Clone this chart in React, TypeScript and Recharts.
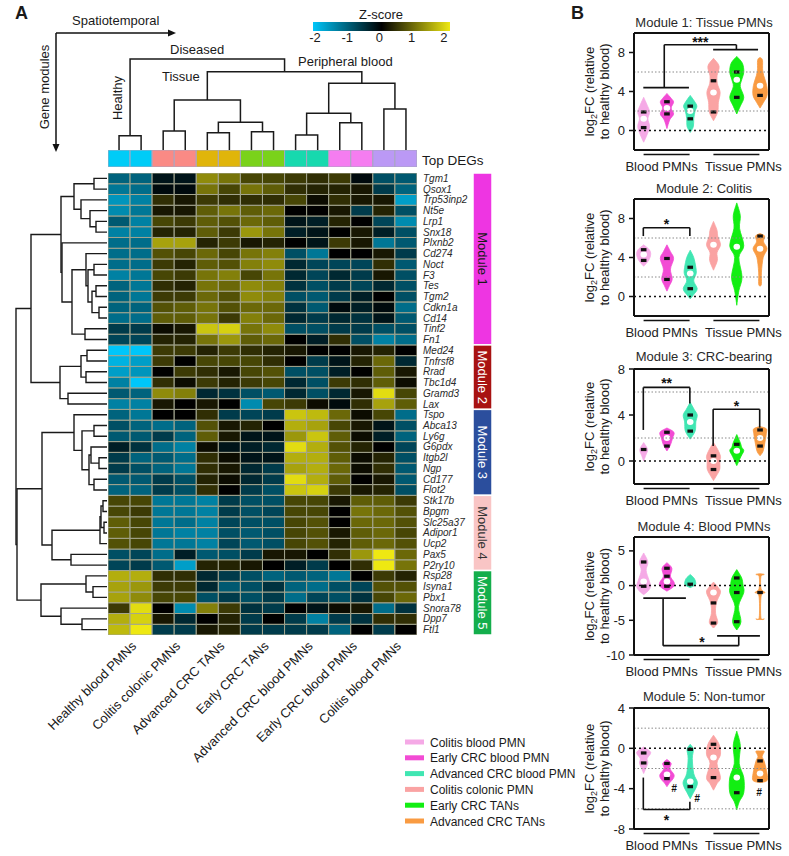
import React from "react";
import {
  Bar,
  BarChart,
  Cell,
  ComposedChart,
  Line,
  ReferenceArea,
  ReferenceDot,
  ReferenceLine,
  XAxis,
  YAxis,
} from "recharts";

const FONT = "'Liberation Sans', Arial, Helvetica, sans-serif";

// ---- heatmap columns (two replicates per group) ----
const GROUPS = [
  "Healthy blood PMNs",
  "Colitis colonic PMNs",
  "Advanced CRC TANs",
  "Early CRC TANs",
  "Advanced CRC blood PMNs",
  "Early CRC blood PMNs",
  "Colitis blood PMNs",
];
const GROUP_COLORS = ["#00CCF7", "#FA8A85", "#E0B50A", "#7AD21A", "#17D9AE", "#F57DF0", "#BB99F5"];
const COLUMNS = GROUPS.flatMap((g) => [g + " 1", g + " 2"]);

// ---- genes + z-scores per module ----
const MODULE1_GENES = ["Tgm1", "Qsox1", "Trp53inp2", "Nt5e", "Lrp1", "Snx18", "Plxnb2", "Cd274", "Noct", "F3", "Tes", "Tgm2", "Cdkn1a", "Cd14", "Tinf2", "Fn1"];
const MODULE1_Z = [
  [-1.0, -1.0, -0.2, -0.2, 1.2, 1.0, 0.6, 0.6, 0.5, 0.4, 0.5, -0.1, -0.8, -0.9],
  [-1.2, -1.1, -0.1, -0.1, 1.0, 0.6, 1.0, 0.8, 0.4, 0.3, 0.3, 0.2, -0.6, -1.0],
  [-1.5, -1.3, 0.4, 0.2, 0.5, 0.4, 0.4, 0.4, 0.6, 0.1, 0.4, 0.2, 0.2, -1.6],
  [-1.4, -1.2, 0.2, 0.2, 0.8, 1.0, 0.8, 0.9, 0.0, 0.0, 0.2, -0.6, 0.3, -0.8],
  [-0.9, -1.3, 0.6, 0.5, 0.8, 0.7, 0.9, 0.8, -0.2, -0.3, 0.3, 0.0, -0.7, -1.4],
  [-1.3, -1.3, 0.3, 0.3, 0.8, 0.5, 1.3, 1.0, -0.3, -0.2, 0.0, 0.2, -0.3, -0.8],
  [-1.1, -1.1, 1.4, 1.4, 0.3, 0.5, 0.2, 0.3, 0.0, -0.2, 0.5, 0.2, -1.2, -0.9],
  [-1.1, -1.1, 0.7, 0.6, 0.9, 0.6, 1.0, 1.1, -0.8, -1.2, 0.0, 0.0, 0.2, -0.6],
  [-1.1, -1.1, 0.5, 0.3, 0.8, 0.7, 1.1, 1.2, -0.4, -0.7, -0.7, -0.7, 0.4, -0.9],
  [-1.3, -1.2, 0.6, 0.5, 1.0, 1.1, 0.6, 1.0, -0.4, -0.7, -0.4, -0.6, 0.2, -0.8],
  [-1.0, -1.2, 0.4, 0.3, 1.0, 0.9, 1.2, 1.1, -0.5, -0.8, -0.6, -0.7, -0.4, -0.8],
  [-1.0, -1.2, 0.5, 0.5, 0.9, 0.7, 1.2, 1.1, -0.8, -0.9, -0.6, -0.3, 0.0, -0.8],
  [-1.0, -1.0, 0.7, 0.8, 1.0, 0.7, 0.9, 0.9, -0.5, -0.9, -0.1, -0.3, -0.1, -1.1],
  [-1.1, -1.1, 0.8, 0.8, 1.0, 0.5, 1.1, 0.9, -0.4, -0.6, -0.4, -0.5, -0.2, -0.9],
  [-0.6, -0.6, 0.1, 0.2, 1.7, 1.8, 1.0, 1.2, -0.8, -0.8, -0.6, -0.6, -0.8, -0.8],
  [-0.7, -0.7, 0.3, 0.3, 1.0, 1.3, 0.8, 0.9, 0.0, -0.3, 0.4, -0.8, -1.3, -1.1],
];
const MODULE2_GENES = ["Med24", "Tnfrsf8", "Rrad", "Tbc1d4", "Gramd3", "Lax"];
const MODULE2_Z = [
  [-2.0, -2.0, 0.5, 0.5, 0.3, 0.5, 0.4, 0.3, 0.2, 0.0, 0.0, 0.2, 0.3, 0.0],
  [-1.8, -1.6, 0.5, 0.0, 0.6, 0.6, 0.6, 0.4, 0.0, -0.6, -0.2, 0.3, 0.9, -0.4],
  [-1.6, -1.5, 0.0, 0.5, 0.4, 0.2, 0.6, 0.7, -0.8, -0.8, -0.3, 0.0, 0.8, 0.2],
  [-1.3, -2.1, 0.4, 0.1, 0.5, 0.3, 0.5, 0.6, -0.4, -0.8, 0.5, 0.4, 0.8, 0.1],
  [-0.9, -1.0, 1.2, 1.1, -0.4, -0.5, -0.8, -0.9, -0.4, -0.8, -0.4, 0.2, 1.9, 0.6],
  [-1.3, -1.3, 0.2, 0.0, 0.2, 0.0, -1.4, 0.6, 0.5, 0.1, -0.1, 0.4, 1.4, 0.8],
];
const MODULE3_GENES = ["Tspo", "Abca13", "Ly6g", "G6pdx", "Itgb2l", "Ngp", "Cd177", "Flot2"];
const MODULE3_Z = [
  [-1.0, -1.2, 0.0, 0.0, 0.4, -0.6, -0.7, -0.6, 1.7, 1.6, 0.9, 0.1, 0.6, -1.1],
  [-0.8, -1.0, -1.1, -1.0, 0.7, 0.2, 0.3, 0.0, 1.5, 1.4, 0.6, 0.2, -0.2, -0.8],
  [-0.9, -0.9, -0.6, -1.0, 0.8, 0.2, -0.2, -0.2, 1.3, 1.7, 0.8, 0.1, -0.3, -1.0],
  [-0.3, -0.5, -1.1, -1.3, 0.1, -0.2, -0.3, -0.4, 1.9, 1.5, 0.7, 0.3, 0.0, -0.7],
  [-0.6, -1.0, -0.9, -1.1, 0.4, 0.1, -0.2, -0.2, 1.5, 1.5, 0.8, 0.1, 0.3, -0.8],
  [-0.6, -0.8, -1.0, -1.2, 0.4, 0.2, -0.4, -0.6, 1.4, 1.5, 0.9, 0.1, 0.4, -0.9],
  [-0.9, -0.9, -0.6, -0.8, 0.3, 0.1, -0.4, -0.6, 1.9, 1.5, 0.8, 0.0, 0.2, -0.9],
  [-1.0, -1.0, -0.6, -0.8, 0.4, 0.0, -0.6, -0.8, 1.7, 1.8, 0.5, 0.2, 0.3, -0.8],
];
const MODULE4_GENES = ["Stk17b", "Bpgm", "Slc25a37", "Adipor1", "Ucp2", "Pax5", "P2ry10"];
const MODULE4_Z = [
  [0.6, 0.6, -1.2, -1.2, -1.3, -0.6, -0.8, -0.8, 0.6, 0.6, 0.2, 0.8, 0.8, 0.5],
  [0.6, 0.5, -1.2, -1.2, -1.3, -0.6, -0.8, -0.7, 0.6, 0.6, 0.0, 1.0, 0.9, 0.7],
  [0.8, 0.6, -1.2, -1.1, -1.3, -0.7, -0.8, -0.8, 0.6, 0.7, 0.0, 0.9, 0.9, 0.7],
  [0.8, 0.6, -1.2, -1.3, -1.3, -0.8, -0.9, -0.8, 0.6, 0.7, 0.2, 0.8, 0.9, 0.6],
  [0.7, 0.6, -1.2, -1.2, -1.3, -0.7, -0.9, -0.8, 0.6, 0.7, 0.3, 0.8, 0.9, 0.7],
  [-0.8, -0.7, -1.1, -0.3, -0.9, -0.8, -0.6, 0.2, 0.2, 0.0, 0.4, 1.3, 2.0, 0.9],
  [-0.7, -0.6, -0.9, -1.6, 0.3, 0.3, 0.2, 0.0, -0.3, -0.6, 0.0, 0.4, 2.0, 1.0],
];
const MODULE5_GENES = ["Rsp28", "Isyna1", "Pbx1", "Snora78", "Dpp7", "Ftl1"];
const MODULE5_Z = [
  [1.5, 1.5, 0.4, 0.4, -0.4, -0.6, -0.8, -1.0, -0.9, -1.0, -1.2, 0.0, 0.5, 0.3],
  [1.4, 1.3, 0.5, 0.5, -0.4, -0.9, -0.8, -0.5, -1.0, -1.1, -0.8, -0.7, 0.7, 0.7],
  [1.4, 1.2, 0.6, 0.6, -0.8, -0.6, -0.8, -0.6, -1.1, -0.7, -0.8, -0.5, 0.6, 0.9],
  [0.5, 1.9, 0.0, -1.4, 1.1, 0.5, -0.5, -0.6, 0.0, -0.2, 0.1, 0.2, -1.1, -0.5],
  [1.5, 1.8, 0.2, -0.4, 0.0, 0.3, -0.6, 0.0, -0.6, -1.3, -0.6, -0.5, 0.4, 0.4],
  [1.6, 2.2, -0.6, -0.6, 0.2, 0.3, -0.6, -0.6, -0.6, -0.6, -1.0, 0.0, -0.6, 0.0],
];

const MODULE_GENES = [MODULE1_GENES, MODULE2_GENES, MODULE3_GENES, MODULE4_GENES, MODULE5_GENES];
const MODULE_NAMES = ["Module 1", "Module 2", "Module 3", "Module 4", "Module 5"];
const MODULE_COLORS = ["#EE35E2", "#A81212", "#2B4E9D", "#F9C5C5", "#14AE4C"];
const MODULE_TEXT = ["#1a1a1a", "#ffffff", "#ffffff", "#333333", "#ffffff"];

const GENES = MODULE_GENES.flat();
const Z = [...MODULE1_Z, ...MODULE2_Z, ...MODULE3_Z, ...MODULE4_Z, ...MODULE5_Z];

// ---- dendrograms: [childA, childB, height]; leaves first, new nodes appended ----
const TOP_LINKS: [number, number, number][] = [
  [0, 1, 14.3], [2, 3, 19], [4, 5, 17.3], [6, 7, 18.3], [16, 17, 27.7], [15, 18, 50],
  [8, 9, 15], [10, 11, 27.3], [20, 21, 36.7], [12, 13, 41], [22, 23, 66.7], [19, 24, 78.3], [14, 25, 91],
];
const LEFT_LINKS: [number, number, number][] = [
  [0, 1, 13], [4, 5, 11], [3, 44, 17], [2, 45, 26], [43, 46, 33],
  [8, 9, 13], [10, 11, 11], [12, 13, 8], [49, 50, 15], [48, 51, 19], [7, 52, 21], [14, 15, 22],
  [53, 54, 35], [6, 55, 45], [47, 56, 46],
  [16, 17, 20], [18, 19, 21], [58, 59, 26], [20, 21, 39], [60, 61, 47], [57, 62, 76],
  [23, 24, 13], [26, 27, 8], [25, 65, 16], [28, 29, 13], [66, 67, 18], [64, 68, 25], [22, 69, 33],
  [30, 31, 4], [32, 33, 3], [71, 72, 6], [73, 34, 7], [35, 36, 36], [74, 75, 55], [70, 76, 65],
  [38, 39, 14], [37, 78, 21], [41, 42, 25], [40, 80, 46], [79, 81, 66], [77, 82, 90], [63, 83, 91],
];

// ---- violin panels ----
type Violin = { min: number; max: number; knots: [number, number][]; med: number | null; q: number[] };
const VIOLIN_NAMES = ["Colitis blood PMN", "Early CRC blood PMN", "Advanced CRC blood PMN", "Colitis colonic PMN", "Early CRC TANs", "Advanced CRC TANs"];
const VIOLIN_COLORS = ["#F5A9E6", "#F24BD4", "#40E6B2", "#FAA3A3", "#12EE12", "#F99B42"];

const M1_VIOLINS: Violin[] = [
  { min: -1.2, max: 3.4, knots: [[2.6, 0.5], [1.9, 0.85], [1.2, 0.6], [0.4, 0.85], [-0.4, 0.5]], med: 1.2, q: [1.9, 0.3] },
  { min: 0.2, max: 3.8, knots: [[3.3, 0.6], [2.9, 0.95], [2.3, 0.6], [1.7, 0.95], [1.1, 0.4]], med: 2.3, q: [2.95, 1.7] },
  { min: -0.2, max: 3.6, knots: [[3.0, 0.6], [2.5, 0.95], [2.0, 0.7], [1.2, 0.5], [0.4, 0.45]], med: 2.0, q: [2.5, 1.2] },
  { min: 1.0, max: 7.4, knots: [[6.6, 0.8], [5.6, 0.5], [4.8, 0.55], [3.9, 0.95], [2.9, 0.7], [1.9, 0.6]], med: 3.9, q: [5.1, 1.9] },
  { min: 1.7, max: 7.6, knots: [[6.9, 0.8], [6.0, 1.0], [5.2, 0.7], [4.5, 0.5], [3.4, 1.0], [2.5, 0.5]], med: 5.2, q: [6.0, 3.4] },
  { min: 2.3, max: 7.5, knots: [[7.2, 0.35], [6.0, 0.4], [4.6, 0.95], [3.6, 1.0], [2.9, 0.5]], med: 4.6, q: [3.6] },
];
const M2_VIOLINS: Violin[] = [
  { min: 3.1, max: 5.3, knots: [[4.8, 0.8], [4.3, 1.0], [3.7, 0.7]], med: 4.3, q: [4.8, 3.7] },
  { min: 0.55, max: 5.3, knots: [[4.6, 0.5], [3.9, 0.95], [2.8, 0.5], [1.8, 0.75], [1.1, 0.35]], med: null, q: [3.9, 1.75] },
  { min: -0.24, max: 4.75, knots: [[4.0, 0.5], [3.0, 0.8], [2.35, 0.85], [1.6, 0.5], [0.8, 1.0], [0.2, 0.5]], med: 2.35, q: [3.0, 0.8] },
  { min: 2.7, max: 7.7, knots: [[6.8, 0.5], [6.2, 0.6], [5.3, 1.0], [4.5, 0.5], [3.7, 0.55]], med: 5.3, q: [] },
  { min: -0.9, max: 9.6, knots: [[8.3, 0.5], [7.0, 0.4], [5.2, 1.0], [4.0, 0.3], [2.0, 0.75], [0.6, 0.3]], med: 5.1, q: [] },
  { min: 1.05, max: 6.45, knots: [[6.2, 0.65], [5.6, 0.5], [4.9, 1.0], [4.0, 0.45], [2.5, 0.2], [1.3, 0.2]], med: 4.9, q: [6.2] },
];
const M3_VIOLINS: Violin[] = [
  { min: 0.0, max: 1.6, knots: [[1.0, 0.55], [0.5, 0.3]], med: null, q: [1.0] },
  { min: 0.88, max: 2.87, knots: [[2.5, 1.0], [2.0, 0.8], [1.4, 0.5]], med: 2.0, q: [2.5, 1.3] },
  { min: 1.9, max: 5.1, knots: [[4.5, 0.55], [4.0, 1.0], [3.4, 0.8], [2.6, 0.7]], med: 3.4, q: [4.0, 2.6] },
  { min: -1.7, max: 1.6, knots: [[1.0, 0.6], [0.4, 1.0], [0.0, 0.9], [-0.7, 0.9], [-1.2, 0.5]], med: 0.0, q: [0.45, -0.74] },
  { min: -0.4, max: 2.3, knots: [[1.6, 0.5], [1.2, 0.7], [0.9, 1.0], [0.4, 0.6]], med: 0.9, q: [1.45] },
  { min: 0.45, max: 3.0, knots: [[2.8, 0.9], [2.4, 0.9], [2.0, 0.8], [1.3, 0.6], [0.8, 0.4]], med: 2.0, q: [2.7, 1.3] },
];
const M4_VIOLINS: Violin[] = [
  { min: -1.3, max: 4.7, knots: [[3.4, 0.6], [2.2, 0.35], [0.8, 0.75], [-0.1, 1.0], [-0.8, 0.6]], med: 0.6, q: [3.4, -0.1] },
  { min: -0.8, max: 3.3, knots: [[2.5, 0.7], [1.35, 0.5], [0.5, 1.0], [-0.1, 1.0]], med: 0.6, q: [2.5, 1.35, -0.1] },
  { min: -0.3, max: 1.6, knots: [[1.0, 0.6], [0.3, 0.8], [0.0, 0.6]], med: null, q: [0.2] },
  { min: -6.1, max: 0.5, knots: [[-0.3, 0.7], [-1.0, 1.0], [-2.5, 0.4], [-4.0, 0.3], [-5.3, 0.6]], med: -1.0, q: [-2.5, -5.4] },
  { min: -6.4, max: 2.3, knots: [[1.1, 0.7], [0.0, 0.9], [-1.0, 1.0], [-3.0, 0.25], [-5.2, 0.6]], med: null, q: [1.1, -1.0, -5.2] },
  { min: -4.9, max: 1.7, knots: [[1.6, 0.6], [1.3, 0.12], [-0.5, 0.15], [-1.0, 0.7], [-1.5, 0.15], [-4.6, 0.12], [-4.8, 0.6]], med: null, q: [-1.0] },
];
const M5_VIOLINS: Violin[] = [
  { min: -2.5, max: 0.13, knots: [[-0.4, 1.0], [-1.0, 0.5], [-1.45, 0.6], [-2.0, 0.3]], med: null, q: [-0.46, -1.45] },
  { min: -3.8, max: -1.1, knots: [[-1.5, 0.6], [-2.0, 0.4], [-2.6, 1.0], [-3.0, 0.9], [-3.4, 0.4]], med: -2.6, q: [-1.5, -3.0] },
  { min: -5.0, max: 0.4, knots: [[-0.1, 0.45], [-1.0, 0.3], [-2.5, 0.5], [-3.3, 1.0], [-3.8, 0.9], [-4.4, 0.45]], med: -3.3, q: [-0.1, -3.8] },
  { min: -4.15, max: 1.3, knots: [[0.4, 0.8], [-0.6, 1.0], [-1.5, 0.5], [-2.9, 1.0], [-3.5, 0.5]], med: -0.9, q: [0.4, -2.9] },
  { min: -6.1, max: 1.7, knots: [[0.3, 0.5], [-1.5, 0.35], [-2.9, 1.0], [-4.4, 1.0], [-5.3, 0.35]], med: -2.9, q: [-4.4] },
  { min: -3.4, max: -0.27, knots: [[-0.3, 0.6], [-0.8, 0.3], [-1.3, 0.6], [-2.5, 1.0], [-3.2, 1.0]], med: -2.5, q: [-1.25, -3.2] },
];

// significance brackets [x1, y1, x2, y2] and marks, in data units
const M1_BRACKETS = [[1, 4.4, 2.96, 4.4], [1.9, 4.4, 1.9, 8.8], [1.9, 8.8, 5, 8.8], [5, 8.8, 5, 8.3], [4, 8.3, 5.93, 8.3]];
const M1_MARKS = [{ x: 3.45, y: 9.1, t: "***" }];
const M2_BRACKETS = [[1, 6.2, 1, 7.05], [1, 7.05, 3, 7.05], [3, 7.05, 3, 6.2]];
const M2_MARKS = [{ x: 2, y: 7.45, t: "*" }];
const M3_BRACKETS = [[1, 2.7, 1, 6.4], [1, 6.4, 3, 6.4], [3, 6.4, 3, 5.0], [4, 1.3, 4, 4.5], [4, 4.5, 6, 4.5], [6, 4.5, 6, 2.9]];
const M3_MARKS = [{ x: 2, y: 6.75, t: "**" }, { x: 5, y: 4.77, t: "*" }];
const M4_BRACKETS = [[1, -1.8, 2.83, -1.8], [1.85, -1.8, 1.85, -8.65], [1.85, -8.65, 5.1, -8.65], [5.1, -8.65, 5.1, -7.25], [4.17, -7.25, 6.01, -7.25]];
const M4_MARKS = [{ x: 3.52, y: -8.1, t: "*" }];
const M5_BRACKETS = [[1, -2.9, 1, -6.07], [1, -6.07, 3, -6.07], [3, -6.07, 3, -5.3]];
const M5_MARKS = [{ x: 2, y: -7.07, t: "*" }, { x: 2.32, y: -3.96, t: "#" }, { x: 3.31, y: -4.95, t: "#" }, { x: 5.97, y: -4.35, t: "#" }];

const GROUP_TICKS = [2, 5];
const GROUP_LABELS = ["Blood PMNs", "Tissue PMNs"];

const PANELS = [
  { title: "Module 1: Tissue PMNs", top: 33, bottom: 150, domain: [-2, 10], ticks: [0, 4, 8], grid: [2, 6], violins: M1_VIOLINS, brackets: M1_BRACKETS, marks: M1_MARKS, titleY: 27 },
  { title: "Module 2: Colitis", top: 199, bottom: 316, domain: [-2, 10], ticks: [0, 4, 8], grid: [2, 6], violins: M2_VIOLINS, brackets: M2_BRACKETS, marks: M2_MARKS, titleY: 193 },
  { title: "Module 3: CRC-bearing", top: 369, bottom: 484, domain: [-2, 8], ticks: [0, 4, 8], grid: [2, 6], violins: M3_VIOLINS, brackets: M3_BRACKETS, marks: M3_MARKS, titleY: 361 },
  { title: "Module 4: Blood PMNs", top: 537, bottom: 655, domain: [-10, 7], ticks: [-10, -5, 0, 5], grid: [], violins: M4_VIOLINS, brackets: M4_BRACKETS, marks: M4_MARKS, titleY: 531 },
  { title: "Module 5: Non-tumor", top: 708, bottom: 829, domain: [-8, 4], ticks: [-8, -4, 0, 4], grid: [2, -2, -6], violins: M5_VIOLINS, brackets: M5_BRACKETS, marks: M5_MARKS, titleY: 701 },
];

// ---- layout ----
const HM_LEFT = 108;
const HM_TOP = 173;
const HM_W = 309;
const HM_H = 462;
const ROW_H = HM_H / GENES.length;
const COL_W = HM_W / COLUMNS.length;
const PLOT_L = 634;
const PLOT_W = 135;

function zColor(z: number) {
  const t = Math.max(-1, Math.min(1, z / 2));
  if (t < 0) {
    const a = -t;
    return `rgb(0,${Math.round(198 * a)},${Math.round(250 * a)})`;
  }
  return `rgb(${Math.round(238 * t)},${Math.round(232 * t)},${Math.round(18 * t)})`;
}

function buildLinks(links: [number, number, number][], nLeaves: number) {
  const pos: number[] = [];
  const hgt: number[] = [];
  for (let i = 0; i < nLeaves; i++) {
    pos[i] = i + 0.5;
    hgt[i] = 0;
  }
  return links.map(([a, b, h], k) => {
    const id = nLeaves + k;
    pos[id] = (pos[a] + pos[b]) / 2;
    hgt[id] = h;
    return [
      { p: pos[a], h: hgt[a] },
      { p: pos[a], h },
      { p: pos[b], h },
      { p: pos[b], h: hgt[b] },
    ];
  });
}

function crPath(p: number[][]) {
  let d = "";
  for (let i = 0; i < p.length - 1; i++) {
    const p0 = p[i - 1] || p[i];
    const p1 = p[i];
    const p2 = p[i + 1];
    const p3 = p[i + 2] || p2;
    const c1x = p1[0] + (p2[0] - p0[0]) / 6;
    const c1y = p1[1] + (p2[1] - p0[1]) / 6;
    const c2x = p2[0] - (p3[0] - p1[0]) / 6;
    const c2y = p2[1] - (p3[1] - p1[1]) / 6;
    d += ` C${c1x},${c1y} ${c2x},${c2y} ${p2[0]},${p2[1]}`;
  }
  return d;
}

function ViolinShape(props: any) {
  const { x, y, width, height, payload } = props;
  if (x == null || !payload) return <g />;
  const [lo, hi] = payload.range;
  const top = Math.min(y, y + height);
  const bot = Math.max(y, y + height);
  const py = (v: number) => top + ((hi - v) / (hi - lo)) * (bot - top);
  const cx = x + width / 2;
  const half = width / 2;
  const pts: [number, number][] = [[hi, 0], ...payload.knots, [lo, 0]];
  const right = pts.map(([v, w]) => [cx + w * half, py(v)]);
  const left = pts
    .slice()
    .reverse()
    .map(([v, w]) => [cx - w * half, py(v)]);
  const d = `M${right[0][0]},${right[0][1]}` + crPath(right) + crPath(left) + "Z";
  return (
    <g>
      <path d={d} fill={payload.color} stroke={payload.color} strokeWidth={0.8} />
      {payload.med != null && <ellipse cx={cx} cy={py(payload.med)} rx={3.3} ry={3} fill="#fff" />}
      {payload.q.map((v: number, i: number) => (
        <rect key={i} x={cx - 2.8} y={py(v) - 1.6} width={5.6} height={3.2} fill="#111" />
      ))}
    </g>
  );
}

function GroupTick(props: any) {
  const { x, y, payload } = props;
  const i = GROUP_TICKS.indexOf(payload.value);
  const dx = i === 0 ? -5 : 7;
  return (
    <g>
      <line x1={x - 23} x2={x + 23} y1={y + 4.5} y2={y + 4.5} stroke="#111" strokeWidth={1.6} />
      <text x={x + dx} y={y + 20.5} textAnchor="middle" fontSize={13} fill="#222" fontFamily={FONT}>
        {GROUP_LABELS[i]}
      </text>
    </g>
  );
}

function ViolinPanel({ panel }: { panel: (typeof PANELS)[number] }) {
  const data = panel.violins.map((v, i) => ({ x: i + 1, range: [v.min, v.max], ...v, color: VIOLIN_COLORS[i], name: VIOLIN_NAMES[i] }));
  const mTop = 9;
  const mRight = 20;
  const axisH = 30;
  const h = mTop + (panel.bottom - panel.top) + axisH;
  const axisStroke = { stroke: "#111", strokeWidth: 2 };
  return (
    <div style={{ position: "absolute", left: PLOT_L - 59, top: panel.top - mTop }}>
      <ComposedChart width={59 + PLOT_W + 10 + mRight} height={h} data={data} margin={{ top: mTop, right: mRight, bottom: 0, left: 0 }}>
        <XAxis
          type="number"
          dataKey="x"
          domain={[0.6, 6.4]}
          ticks={GROUP_TICKS}
          interval={0}
          tick={(p: any) => <GroupTick {...p} />}
          tickLine={false}
          tickSize={0}
          tickMargin={0}
          axisLine={axisStroke}
          height={axisH}
          allowDataOverflow
        />
        <YAxis
          yAxisId="l"
          type="number"
          domain={panel.domain}
          ticks={panel.ticks}
          interval={0}
          allowDataOverflow
          width={59}
          tickSize={5}
          tickMargin={4}
          tick={{ fontSize: 13, fill: "#222", fontFamily: FONT }}
          tickLine={{ stroke: "#111", strokeWidth: 1.5 }}
          axisLine={axisStroke}
        />
        <YAxis
          yAxisId="r"
          orientation="right"
          type="number"
          domain={panel.domain}
          ticks={panel.ticks}
          interval={0}
          allowDataOverflow
          width={10}
          tickSize={5}
          tick={false}
          tickLine={{ stroke: "#111", strokeWidth: 1.5 }}
          axisLine={axisStroke}
        />
        {panel.grid.map((g) => (
          <ReferenceLine key={g} yAxisId="l" y={g} stroke="#8a8a8a" strokeWidth={1} strokeDasharray="1.5 2" />
        ))}
        <ReferenceLine yAxisId="l" y={0} stroke="#111" strokeWidth={1.5} strokeDasharray="2 3" />
        <ReferenceLine yAxisId="l" y={panel.domain[1]} stroke="#111" strokeWidth={2} />
        <Bar yAxisId="l" dataKey="range" barSize={14} shape={(p: any) => <ViolinShape {...p} />} isAnimationActive={false} />
        {panel.brackets.map((s, i) => (
          <ReferenceLine
            key={"b" + i}
            yAxisId="l"
            segment={[
              { x: s[0], y: s[1] },
              { x: s[2], y: s[3] },
            ]}
            stroke="#111"
            strokeWidth={1.6}
          />
        ))}
        {panel.marks.map((m, i) => (
          <ReferenceDot
            key={"m" + i}
            yAxisId="l"
            x={m.x}
            y={m.y}
            r={0}
            fill="none"
            stroke="none"
            label={{
              value: m.t,
              position: "center",
              fontSize: m.t === "#" ? 10 : 14,
              fontWeight: "bold",
              fontStyle: m.t === "#" ? "italic" : "normal",
              fill: "#111",
              fontFamily: FONT,
            }}
          />
        ))}
      </ComposedChart>
    </div>
  );
}

function ModuleRect(props: any) {
  const { x, y, width, height, idx } = props;
  if (x == null || y == null) return <g />;
  const top = Math.min(y, y + height);
  const hh = Math.abs(height);
  const left = Math.min(x, x + width);
  const ww = Math.abs(width);
  const cx = left + ww / 2;
  const cy = top + hh / 2;
  return (
    <g>
      <rect x={left} y={top} width={ww} height={hh} fill={MODULE_COLORS[idx]} stroke="#fff" strokeWidth={1.5} />
      <text
        transform={`translate(${cx},${cy}) rotate(90)`}
        textAnchor="middle"
        dominantBaseline="central"
        fontSize={13}
        fill={MODULE_TEXT[idx]}
        fontFamily={FONT}
      >
        {MODULE_NAMES[idx]}
      </text>
    </g>
  );
}

export default function App() {
  const heatData = COLUMNS.map((c, ci) => {
    const row: Record<string, any> = { col: "c" + ci, name: c };
    GENES.forEach((_, gi) => (row["g" + gi] = 1));
    return row;
  });
  const barData = COLUMNS.map((c, ci) => ({ col: "c" + ci, name: c, v: 1 }));
  const moduleData = [
    MODULE_GENES.reduce((acc: Record<string, any>, g, i) => {
      acc["m" + i] = g.length;
      return acc;
    }, { k: "modules" }),
  ];
  const topLinks = buildLinks(TOP_LINKS, COLUMNS.length);
  const leftLinks = buildLinks(LEFT_LINKS, GENES.length);

  const zStops = [-2, -1, 0, 1, 2];
  const txt = { fontFamily: FONT, fill: "#1a1a1a" };

  return (
    <div style={{ position: "absolute", left: 0, top: 0, width: 789, height: 856, background: "#fff", fontFamily: FONT }}>
      {/* top dendrogram */}
      <div style={{ position: "absolute", left: HM_LEFT, top: 50 }}>
        <ComposedChart width={HM_W} height={100} margin={{ top: 0, right: 0, bottom: 0, left: 0 }}>
          <XAxis type="number" dataKey="p" domain={[0, COLUMNS.length]} hide allowDataOverflow />
          <YAxis type="number" domain={[0, 100]} hide allowDataOverflow />
          {topLinks.map((pts, i) => (
            <Line key={i} data={pts} dataKey="h" stroke="#1a1a1a" strokeWidth={1.5} dot={false} isAnimationActive={false} />
          ))}
        </ComposedChart>
      </div>

      {/* column color bar */}
      <div style={{ position: "absolute", left: HM_LEFT, top: 150 }}>
        <BarChart width={HM_W} height={17} data={barData} barCategoryGap={0} margin={{ top: 0, right: 0, bottom: 0, left: 0 }}>
          <XAxis dataKey="col" hide />
          <YAxis type="number" domain={[0, 1]} hide />
          <Bar dataKey="v" isAnimationActive={false}>
            {barData.map((_, ci) => (
              <Cell key={ci} fill={GROUP_COLORS[Math.floor(ci / 2)]} stroke="#a9a6c0" strokeWidth={1} />
            ))}
          </Bar>
        </BarChart>
      </div>

      {/* row dendrogram */}
      <div style={{ position: "absolute", left: 7, top: HM_TOP }}>
        <ComposedChart width={100} height={HM_H} margin={{ top: 0, right: 0, bottom: 0, left: 0 }}>
          <XAxis type="number" dataKey="h" domain={[0, 100]} reversed hide allowDataOverflow />
          <YAxis type="number" domain={[0, GENES.length]} reversed hide allowDataOverflow />
          {leftLinks.map((pts, i) => (
            <Line key={i} data={pts} dataKey="p" stroke="#1a1a1a" strokeWidth={1.4} dot={false} isAnimationActive={false} />
          ))}
        </ComposedChart>
      </div>

      {/* heatmap */}
      <div style={{ position: "absolute", left: HM_LEFT, top: HM_TOP }}>
        <BarChart width={HM_W} height={HM_H} data={heatData} barCategoryGap={0} barGap={0} margin={{ top: 0, right: 0, bottom: 0, left: 0 }}>
          <XAxis dataKey="col" hide />
          <YAxis type="number" domain={[0, GENES.length]} hide />
          {GENES.map((_, k) => {
            const gi = GENES.length - 1 - k;
            return (
              <Bar key={gi} dataKey={"g" + gi} stackId="h" isAnimationActive={false}>
                {COLUMNS.map((_, ci) => (
                  <Cell key={ci} fill={zColor(Z[gi][ci])} stroke="#a4a68f" strokeWidth={1} />
                ))}
              </Bar>
            );
          })}
          <ReferenceArea x1="c2" x2="c7" y1={0} y2={GENES.length} fill="none" stroke="#1b1bd8" strokeWidth={1.8} ifOverflow="visible" />
          <ReferenceArea x1="c8" x2="c13" y1={0} y2={GENES.length} fill="none" stroke="#d81b1b" strokeWidth={1.8} ifOverflow="visible" />
        </BarChart>
      </div>

      {/* module bars */}
      <div style={{ position: "absolute", left: 473, top: HM_TOP }}>
        <BarChart width={19} height={HM_H} data={moduleData} barCategoryGap={0} margin={{ top: 0, right: 0, bottom: 0, left: 0 }}>
          <XAxis dataKey="k" hide />
          <YAxis type="number" domain={[0, GENES.length]} reversed hide />
          {MODULE_NAMES.map((_, i) => (
            <Bar
              key={i}
              dataKey={"m" + i}
              stackId="m"
              fill={MODULE_COLORS[i]}
              isAnimationActive={false}
              shape={(p: any) => <ModuleRect {...p} idx={i} />}
            />
          ))}
        </BarChart>
      </div>

      {/* violin panels */}
      {PANELS.map((p, i) => (
        <ViolinPanel key={i} panel={p} />
      ))}

      {/* text overlay */}
      <svg width={789} height={856} style={{ position: "absolute", left: 0, top: 0, pointerEvents: "none" }}>
        <defs>
          <linearGradient id="zgrad" x1="0" x2="1" y1="0" y2="0">
            {zStops.map((z, i) => (
              <stop key={z} offset={`${i * 25}%`} stopColor={zColor(z)} />
            ))}
          </linearGradient>
        </defs>
        <text x={15} y={19} fontSize={18} fontWeight="bold" {...txt}>A</text>
        <text x={571} y={19} fontSize={18} fontWeight="bold" {...txt}>B</text>

        <text x={72} y={25} fontSize={13} {...txt}>Spatiotemporal</text>
        <line x1={56} y1={33} x2={170} y2={33} stroke="#111" strokeWidth={1.5} />
        <polygon points="176,33 168,29.5 168,36.5" fill="#111" />
        <line x1={56} y1={33} x2={56} y2={146} stroke="#111" strokeWidth={1.5} />
        <polygon points="56,152 52.5,144 59.5,144" fill="#111" />
        <text transform="translate(49,87) rotate(-90)" textAnchor="middle" fontSize={13} {...txt}>Gene modules</text>

        <text x={170} y={54} fontSize={13} {...txt}>Diseased</text>
        <text x={298} y={66} fontSize={13} {...txt}>Peripheral blood</text>
        <text x={162} y={81} fontSize={13} {...txt}>Tissue</text>
        <text transform="translate(122,98) rotate(-90)" textAnchor="middle" fontSize={13} {...txt}>Healthy</text>

        <text x={381} y={19} textAnchor="middle" fontSize={13} {...txt}>Z-score</text>
        <rect x={313} y={22} width={137} height={9} fill="url(#zgrad)" />
        {zStops.map((z, i) => (
          <text key={z} x={315 + i * 32.2} y={42} textAnchor="middle" fontSize={13} {...txt}>
            {z}
          </text>
        ))}

        <text x={422} y={165} fontSize={13.5} {...txt}>Top DEGs</text>
        {GENES.map((g, i) => (
          <text key={g} x={423} y={HM_TOP + (i + 0.5) * ROW_H + 3.5} fontSize={10} fontStyle="italic" fill="#2a2a2a" fontFamily={FONT}>
            {g}
          </text>
        ))}

        {GROUPS.map((g, gi) => {
          const cx = HM_LEFT + (2 * gi + 1) * COL_W + 7;
          return (
            <text key={g} transform={`translate(${cx},647) rotate(-45)`} textAnchor="end" fontSize={13} {...txt}>
              {g}
            </text>
          );
        })}

        {VIOLIN_NAMES.map((n, i) => (
          <g key={n}>
            <rect x={405} y={742 + i * 15.8 - 2.5} width={19} height={5} fill={VIOLIN_COLORS[i]} />
            <text x={430} y={742 + i * 15.8 + 4.5} fontSize={12} {...txt}>
              {n}
            </text>
          </g>
        ))}

        {PANELS.map((p) => {
          const cy = (p.top + p.bottom) / 2;
          return (
            <g key={p.title}>
              <text x={704} y={p.titleY} textAnchor="middle" fontSize={13} fill="#2a2a2a" fontFamily={FONT}>
                {p.title}
              </text>
              <text transform={`translate(594,${cy}) rotate(-90)`} textAnchor="middle" fontSize={13} {...txt}>
                log<tspan fontSize={9} dy={3}>2</tspan>
                <tspan dy={-3}>FC (relative</tspan>
              </text>
              <text transform={`translate(609,${cy}) rotate(-90)`} textAnchor="middle" fontSize={13} {...txt}>
                to healthy blood)
              </text>
            </g>
          );
        })}
      </svg>
    </div>
  );
}
